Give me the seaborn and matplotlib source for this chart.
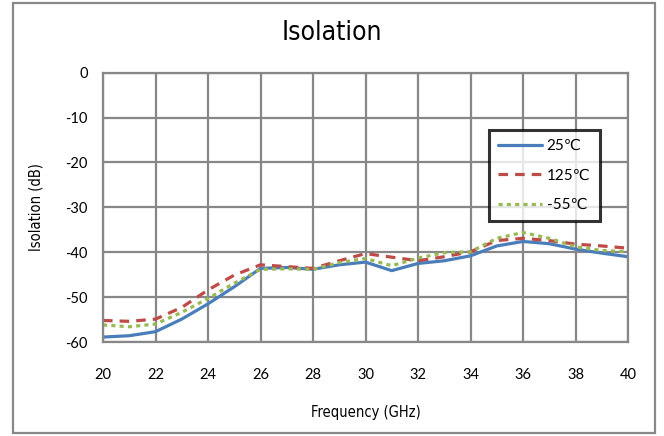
import matplotlib
matplotlib.use("Agg")
import matplotlib.pyplot as plt
import seaborn as sns
import pandas as pd
from matplotlib.patches import Rectangle

freq = [20, 21, 22, 23, 24, 25, 26, 27, 28, 29, 30, 31, 32, 33, 34, 35, 36, 37, 38, 39, 40]
iso_25 = [-58.9, -58.6, -57.7, -54.9, -51.5, -47.7, -43.6, -43.4, -43.8, -42.8, -42.2,
          -44.1, -42.5, -41.9, -40.8, -38.6, -37.6, -38.1, -39.3, -40.2, -41.0]
iso_125 = [-55.2, -55.4, -54.9, -52.3, -48.4, -45.1, -42.8, -43.2, -43.6, -41.9, -40.3,
           -41.1, -41.9, -41.0, -39.9, -37.4, -36.9, -37.4, -38.2, -38.6, -39.1]
iso_m55 = [-56.2, -56.6, -56.0, -53.4, -50.3, -46.9, -43.8, -43.7, -43.8, -42.3, -41.4,
           -43.0, -41.3, -40.1, -39.9, -36.9, -35.6, -36.9, -38.8, -39.6, -39.9]
labels = ["25\u2103", "125\u2103", "-55\u2103"]
xticks = list(range(20, 41, 2))
yticks = list(range(-60, 1, 10))

df = pd.DataFrame({
    "Frequency": freq * 3,
    "Isolation": iso_25 + iso_125 + iso_m55,
    "Temp": [labels[0]] * len(freq) + [labels[1]] * len(freq) + [labels[2]] * len(freq),
})

sns.set_style("white")
plt.rcParams['font.family'] = ['Lato', 'DejaVu Sans']
plt.rcParams['axes.unicode_minus'] = False
plt.rcParams['text.color'] = 'black'
plt.rcParams['axes.labelcolor'] = 'black'

fig = plt.figure(figsize=(6.64, 4.36), dpi=100)
ax = fig.add_axes([103/664, 1-342/436, 525/664, (342-72.7)/436])

palette = {labels[0]: "#4a7ebb", labels[1]: "#be4b48", labels[2]: "#98b954"}
dashes = {labels[0]: "", labels[1]: (3, 2.2), labels[2]: (1.3, 1.3)}
sns.lineplot(data=df, x="Frequency", y="Isolation", hue="Temp", style="Temp",
             palette=palette, dashes=dashes, linewidth=2.3, ax=ax, legend=True)

ax.set_xlim(20, 40)
ax.set_ylim(-60, 0)
ax.set_xticks(xticks)
ax.set_yticks(yticks)
ax.grid(True, color="#878787", linewidth=1.6)
ax.set_axisbelow(True)
for s in ax.spines.values():
    s.set_color("#878787")
    s.set_linewidth(1.6)
ax.tick_params(axis="both", direction="out", length=5, width=1.6, color="#878787",
               labelsize=10.5, labelcolor="black")
ax.tick_params(axis="x", pad=14)
ax.tick_params(axis="y", pad=6)

cond = dict(family=['DejaVu Sans'], stretch='condensed')
ax.set_xlabel("Frequency (GHz)", fontsize=10.5, color="black", **cond)
ax.set_ylabel("Isolation (dB)", fontsize=10.5, color="black", **cond)
ax.xaxis.set_label_coords(0.5, -63/269.3)
ax.yaxis.set_label_coords(-60/525, 0.5)
fig.text(0.5, 1-33/436, "Isolation", ha="center", va="center", fontsize=19,
         color="black", **cond)

leg = ax.legend(loc="upper left", bbox_to_anchor=(0.72, 0.815), frameon=True,
                fancybox=False, edgecolor="black", fontsize=11, handlelength=2.9,
                labelspacing=1.0, borderpad=0.6, handletextpad=0.3, title=None)
leg.get_frame().set_linewidth(2.2)
for t in leg.get_texts():
    t.set_family(['Lato', 'DejaVu Sans'])
    t.set_color('black')

fig.patches.append(Rectangle((13/664, 3/436), 642/664, 430/436, transform=fig.transFigure,
                             fill=False, edgecolor="#888888", linewidth=1.6))

fig.savefig("out.png", dpi=100)
